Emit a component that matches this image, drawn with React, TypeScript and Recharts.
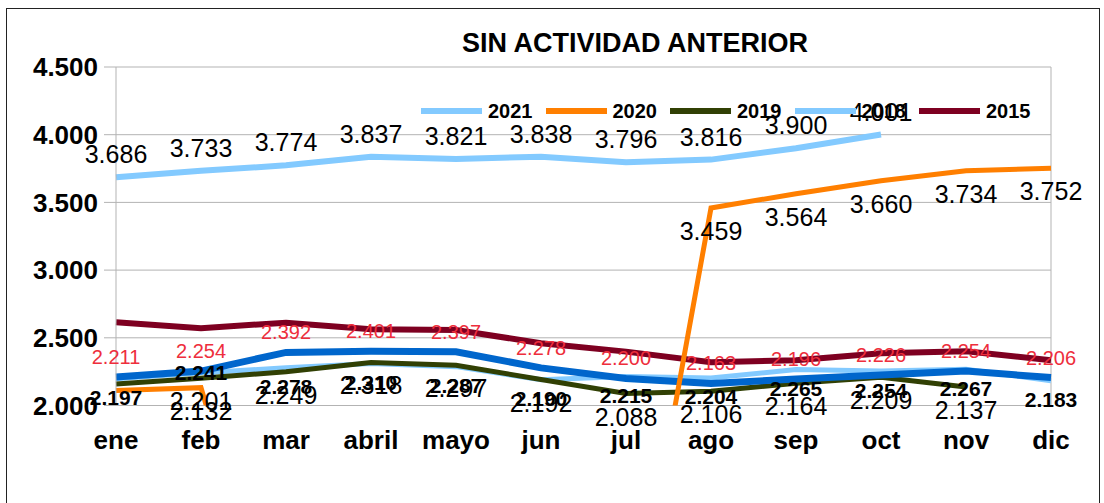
import React from 'react';
import { LineChart, Line, XAxis, YAxis, CartesianGrid, LabelList, Legend, ReferenceLine } from 'recharts';

const months = ['ene', 'feb', 'mar', 'abril', 'mayo', 'jun', 'jul', 'ago', 'sep', 'oct', 'nov', 'dic'];
const s2021 = [3686, 3733, 3774, 3837, 3821, 3838, 3796, 3816, 3900, 4001, null, null];
const s2020 = [2110, 2132, 0, 0, 0, 0, 0, 3459, 3564, 3660, 3734, 3752];
const s2019 = [2159, 2201, 2249, 2318, 2297, 2192, 2088, 2106, 2164, 2209, 2137, null];
const s2018 = [2197, 2241, 2278, 2310, 2287, 2190, 2215, 2204, 2265, 2254, 2267, 2183];
const s2017 = [2211, 2254, 2392, 2401, 2397, 2278, 2200, 2163, 2196, 2226, 2254, 2206];
const s2015 = [2615, 2571, 2612, 2563, 2558, 2460, 2398, 2320, 2335, 2386, 2400, 2335];
const yTicks = [2000, 2500, 3000, 3500, 4000, 4500];

const data = months.map((m, i) => ({
  m,
  a2021: s2021[i],
  a2020: s2020[i],
  a2019: s2019[i],
  a2018: s2018[i],
  a2017: s2017[i],
  a2015: s2015[i],
}));

const FONT = '"Liberation Sans", Arial, sans-serif';
const fmt = (v: number) => (v / 1000).toFixed(3);

const makeLabel = (dy: number, color: string, size: number, weight: string, skip: number[] = [], special: Record<number, number> = {}) =>
  (props: any) => {
    const x = props.x ?? props.viewBox?.x;
    const y = props.y ?? props.viewBox?.y;
    const { value, index } = props;
    if (value == null || x == null || y == null || value < 2000 || skip.includes(index)) return null;
    const d = special[index] !== undefined ? special[index] : dy;
    return (
      <text x={x} y={y + d} textAnchor="middle" dominantBaseline="central" fill={color}
        fontSize={size} fontWeight={weight} fontFamily={FONT}>
        {fmt(value)}
      </text>
    );
  };

const renderLegend = (props: any) => {
  const items = [...(props.payload || [])]
    .filter((p: any) => p.type !== 'none')
    .sort((a: any, b: any) => Number(b.value) - Number(a.value));
  return (
    <div style={{ display: 'flex', height: 20, alignItems: 'center' }}>
      {items.map((it: any) => (
        <div key={it.value} style={{ display: 'flex', alignItems: 'center', width: 124.5 }}>
          <div style={{ width: 61, height: 6, background: it.color }} />
          <span style={{ marginLeft: 6, fontFamily: FONT, fontWeight: 'bold', fontSize: 20, color: '#000' }}>{it.value}</span>
        </div>
      ))}
    </div>
  );
};

export default function App() {
  return (
    <div style={{ position: 'absolute', left: 0, top: 0, width: 1104, height: 503, background: '#fff', overflow: 'hidden' }}>
      <div style={{ position: 'absolute', left: 6, top: 8, width: 1094, height: 520, border: '1px solid #222', boxSizing: 'border-box' }} />
      <div style={{ position: 'absolute', top: 30, left: 635, transform: 'translateX(-50%)', whiteSpace: 'nowrap', fontFamily: FONT, fontWeight: 'bold', fontSize: 27, lineHeight: '26px', color: '#000' }}>
        SIN ACTIVIDAD ANTERIOR
      </div>
      <LineChart width={1104} height={503} data={data} margin={{ top: 67, right: 53, bottom: 57.5, left: 0 }}>
        <CartesianGrid vertical={false} stroke="#b3b3b3" />
        <ReferenceLine x="dic" stroke="#b3b3b3" />
        <XAxis dataKey="m" axisLine={false} tickLine={false} tickSize={0} tickMargin={25} height={40}
          tick={{ fill: '#000', fontSize: 26, fontWeight: 'bold', fontFamily: FONT }} interval={0} />
        <YAxis domain={[2000, 4500]} ticks={yTicks} allowDataOverflow width={116}
          axisLine={{ stroke: '#b3b3b3' }} tickLine={{ stroke: '#b3b3b3' }} tickSize={12} tickMargin={6}
          tickFormatter={(v: number) => fmt(v)}
          tick={{ fill: '#000', fontSize: 26, fontWeight: 'bold', fontFamily: FONT }} />
        <Legend layout="horizontal" verticalAlign="middle" align="center" content={renderLegend}
          wrapperStyle={{ position: 'absolute', left: 421, top: 101, width: 'auto', height: 20 }} />
        <Line dataKey="a2015" name="2015" stroke="#7e0021" strokeWidth={6} dot={false} isAnimationActive={false} />
        <Line dataKey="a2018" name="2018" stroke="#83caff" strokeWidth={5} dot={false} isAnimationActive={false}>
          <LabelList dataKey="a2018" content={makeLabel(19, '#000', 21, 'bold', [], { 1: 0 })} />
        </Line>
        <Line dataKey="a2019" name="2019" stroke="#314004" strokeWidth={5} dot={false} isAnimationActive={false}>
          <LabelList dataKey="a2019" content={makeLabel(23, '#000', 25, 'normal', [0])} />
        </Line>
        <Line dataKey="a2017" name="2017" legendType="none" stroke="#0066cc" strokeWidth={7} dot={false} isAnimationActive={false}>
          <LabelList dataKey="a2017" content={makeLabel(-20, '#ee2e3c', 20, 'normal')} />
        </Line>
        <Line dataKey="a2021" name="2021" stroke="#83caff" strokeWidth={6} dot={false} isAnimationActive={false}>
          <LabelList dataKey="a2021" content={makeLabel(-23, '#000', 25, 'normal')} />
        </Line>
        <Line dataKey="a2020" name="2020" stroke="#ff7f00" strokeWidth={5} dot={false} isAnimationActive={false}>
          <LabelList dataKey="a2020" content={makeLabel(23, '#000', 25, 'normal', [0])} />
        </Line>
      </LineChart>
    </div>
  );
}
